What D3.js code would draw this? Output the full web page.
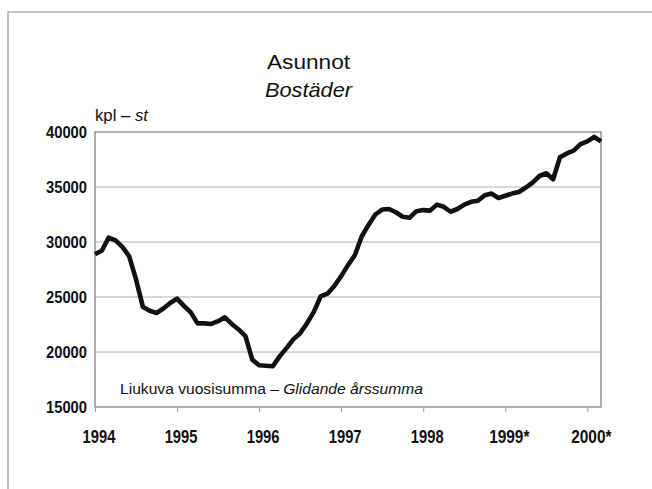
<!DOCTYPE html>
<html>
<head>
<meta charset="utf-8">
<script src="https://cdn.jsdelivr.net/npm/d3@7"></script>
<style>
  html, body { margin: 0; padding: 0; background: #fff; }
  svg { display: block; }
  .cond { font-family: "Liberation Sans", Arial, Helvetica, sans-serif; }
</style>
</head>
<body>
<svg id="chart" width="652" height="489"></svg>
<script>
// ---- Data (monthly moving annual sum, Jan 1994 – Mar 2000) ----
const startYear = 1994;
const values = [
  28900, 29200, 30400, 30150, 29550, 28700, 26600, 24100, 23750, 23550, 23950, 24450,
  24850, 24200, 23600, 22600, 22600, 22550, 22800, 23150, 22550, 22050, 21450, 19300,
  18800, 18750, 18700, 19600, 20350, 21150, 21700, 22600, 23650, 25050, 25300, 26000,
  26900, 27900, 28800, 30500, 31550, 32500, 32950, 33000, 32700, 32300, 32200, 32800,
  32900, 32850, 33400, 33200, 32750, 33000, 33400, 33650, 33750, 34250, 34400, 34000,
  34200, 34400, 34550, 34950, 35400, 36000, 36250, 35700, 37700, 38050, 38300, 38900,
  39150, 39550, 39150
];
const yearTicks = [1994, 1995, 1996, 1997, 1998, 1999, 2000];
const yearLabels = ["1994", "1995", "1996", "1997", "1998", "1999*", "2000*"];
const yTicks = [15000, 20000, 25000, 30000, 35000, 40000];
const titleLine1 = "Asunnot";
const titleLine2 = "Bostäder";
const unitFi = "kpl – ";
const unitSv = "st";
const noteFi = "Liukuva vuosisumma – ";
const noteSv = "Glidande årssumma";

const points = values.map((v, i) => ({ t: startYear + i / 12, v }));

// ---- Layout ----
const svg = d3.select("#chart");
const L = 95, R = 601, T = 132, B = 407;

const x = d3.scaleLinear()
  .domain([startYear, startYear + (values.length - 1) / 12])
  .range([L, R]);
const y = d3.scaleLinear().domain([15000, 40000]).range([B, T]);

// condensed-looking width for a label of digits (+ optional star)
const labelWidth = (s, digitW, starW) =>
  s.split("").reduce((w, c) => w + (c === "*" ? starW : digitW), 0);

// outer frame (only top/left visible)
svg.append("rect")
  .attr("x", 8).attr("y", 12).attr("width", 700).attr("height", 600)
  .attr("fill", "none").attr("stroke", "#9a9a9a").attr("stroke-width", 1.2);

// gridlines
svg.append("g")
  .selectAll("line")
  .data(yTicks.filter(d => d > 15000 && d < 40000))
  .join("line")
  .attr("x1", L).attr("x2", R)
  .attr("y1", d => y(d)).attr("y2", d => y(d))
  .attr("stroke", "#b0b0b0").attr("stroke-width", 1);

// plot box
svg.append("rect")
  .attr("x", L).attr("y", T).attr("width", R - L).attr("height", B - T)
  .attr("fill", "none").attr("stroke", "#6e6e6e").attr("stroke-width", 1.1);

// x axis
const xAxis = d3.axisBottom(x)
  .tickValues(yearTicks)
  .tickFormat((d, i) => yearLabels[i])
  .tickSize(5)
  .tickPadding(0);
const gx = svg.append("g").attr("transform", `translate(0,${B})`).call(xAxis);
gx.select(".domain").remove();
gx.selectAll(".tick line").attr("stroke", "#9a9a9a");
gx.selectAll(".tick text")
  .attr("class", "cond")
  .attr("y", 36)
  .attr("dy", 0)
  .attr("dx", 3.5)
  .attr("fill", "#111")
  .attr("textLength", function () { return labelWidth(this.textContent, 8.2, 7.5); })
  .attr("lengthAdjust", "spacingAndGlyphs")
  .style("font-size", "18.5px")
  .style("font-weight", "bold");

// y axis
const yAxis = d3.axisLeft(y).tickValues(yTicks).tickFormat(d3.format("d")).tickSize(0).tickPadding(8);
const gy = svg.append("g").attr("transform", `translate(${L},0)`).call(yAxis);
gy.select(".domain").remove();
gy.selectAll(".tick text")
  .attr("class", "cond")
  .attr("dy", "0.36em")
  .attr("fill", "#111")
  .attr("textLength", function () { return labelWidth(this.textContent, 8.2, 7.5); })
  .attr("lengthAdjust", "spacingAndGlyphs")
  .style("font-size", "16.5px")
  .style("font-weight", "bold");

// line
const line = d3.line().x(d => x(d.t)).y(d => y(d.v));
svg.append("path")
  .datum(points)
  .attr("d", line)
  .attr("fill", "none")
  .attr("stroke", "#111")
  .attr("stroke-width", 4.6)
  .attr("stroke-linejoin", "round")
  .attr("stroke-linecap", "butt");

// titles
svg.append("text").attr("class", "cond")
  .attr("x", 308.5).attr("y", 69).attr("text-anchor", "middle")
  .attr("textLength", 83).attr("lengthAdjust", "spacingAndGlyphs")
  .style("font-size", "21px").attr("fill", "#111")
  .text(titleLine1);
svg.append("text").attr("class", "cond")
  .attr("x", 308.5).attr("y", 97).attr("text-anchor", "middle")
  .attr("textLength", 87).attr("lengthAdjust", "spacingAndGlyphs")
  .style("font-size", "21px").style("font-style", "italic").attr("fill", "#111")
  .text(titleLine2);

// unit label
const unit = svg.append("text").attr("class", "cond")
  .attr("x", 95).attr("y", 121)
  .attr("textLength", 53).attr("lengthAdjust", "spacingAndGlyphs")
  .style("font-size", "17px").attr("fill", "#111");
unit.append("tspan").text(unitFi);
unit.append("tspan").style("font-style", "italic").text(unitSv);

// note
const note = svg.append("text").attr("class", "cond")
  .attr("x", 120).attr("y", 394)
  .attr("textLength", 303).attr("lengthAdjust", "spacingAndGlyphs")
  .style("font-size", "15.5px").attr("fill", "#111");
note.append("tspan").text(noteFi);
note.append("tspan").style("font-style", "italic").text(noteSv);
</script>
</body>
</html>
